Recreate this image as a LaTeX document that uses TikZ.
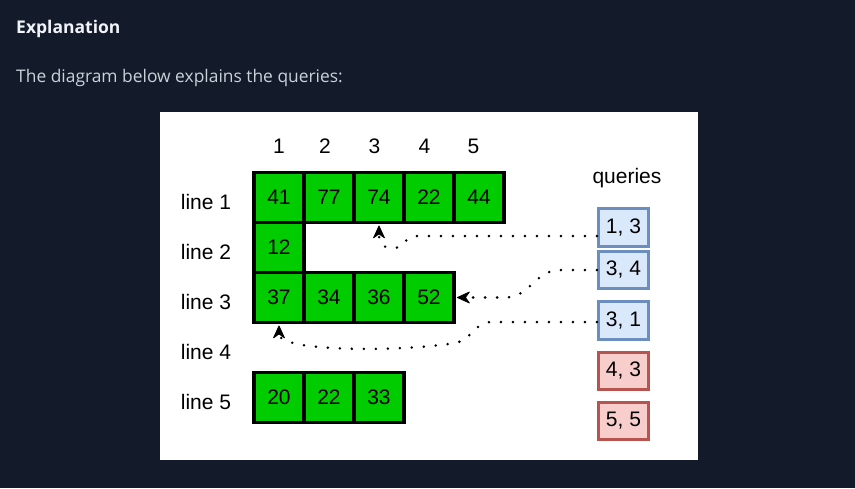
\documentclass[tikz,border=0pt]{standalone}
\usepackage{fontspec}
\setmainfont{Liberation Sans}
\newfontfamily\opensans{Open Sans}
\usetikzlibrary{arrows.meta}
\definecolor{pagebg}{HTML}{131A2A}
\definecolor{titlecol}{HTML}{F0F3F8}
\definecolor{bodycol}{HTML}{C9D1D9}
\definecolor{cellgreen}{HTML}{00CC00}
\definecolor{qbluefill}{HTML}{DAE8FC}
\definecolor{qbluedraw}{HTML}{6C8EBF}
\definecolor{qredfill}{HTML}{F8CECC}
\definecolor{qreddraw}{HTML}{B85450}
\begin{document}
\begin{tikzpicture}[x=1pt,y=-1pt,
  figfont/.style={font=\fontsize{21}{24}\selectfont},
  cell/.style={draw=black, line width=3.2pt, fill=cellgreen, minimum width=50pt, minimum height=50pt, inner sep=0pt, figfont},
  qblue/.style={draw=qbluedraw, fill=qbluefill, line width=3.2pt, minimum width=50pt, minimum height=37.5pt, inner sep=0pt, figfont},
  qred/.style={draw=qreddraw, fill=qredfill, line width=3.2pt, minimum width=50pt, minimum height=37.5pt, inner sep=0pt, figfont},
  lbl/.style={inner sep=0pt, figfont},
  dotline/.style={line width=2.8pt, line cap=round, dash pattern=on 0pt off 12pt},
  headfill/.style={fill=black, draw=black, line width=0.8pt, line join=round}
]
\useasboundingbox (0,0) rectangle (855,488);
\fill[pagebg] (0,0) rectangle (855,488);
\node[anchor=base west, inner sep=0pt, text=titlecol, font=\opensans\bfseries\fontsize{17.5}{20}\selectfont] (title) at (16,33) {Explanation};
\node[anchor=base west, inner sep=0pt, text=bodycol, font=\opensans\fontsize{17.4}{20}\selectfont] (intro) at (16,82) {The diagram below explains the queries:};
\fill[white] (160,112) rectangle (698,460);

% column headers
\node[lbl] (h1) at (279,146.5) {1};
\node[lbl] (h2) at (325,146.5) {2};
\node[lbl] (h3) at (374.5,146.5) {3};
\node[lbl] (h4) at (424.5,146.5) {4};
\node[lbl] (h5) at (473.5,146.5) {5};

% line labels
\node[lbl] (l1) at (206,202) {line 1};
\node[lbl] (l2) at (206,252) {line 2};
\node[lbl] (l3) at (206,302) {line 3};
\node[lbl] (l4) at (206,352) {line 4};
\node[lbl] (l5) at (206,402) {line 5};

% cells
\node[cell] (c11) at (279,197.5) {41};
\node[cell] (c12) at (329,197.5) {77};
\node[cell] (c13) at (379,197.5) {74};
\node[cell] (c14) at (429,197.5) {22};
\node[cell] (c15) at (479,197.5) {44};
\node[cell] (c21) at (279,247.5) {12};
\node[cell] (c31) at (279,297.5) {37};
\node[cell] (c32) at (329,297.5) {34};
\node[cell] (c33) at (379,297.5) {36};
\node[cell] (c34) at (429,297.5) {52};
\node[cell] (c51) at (279,397.5) {20};
\node[cell] (c52) at (329,397.5) {22};
\node[cell] (c53) at (379,397.5) {33};

% queries
\node[lbl] (qlabel) at (627,178) {queries};
\node[qblue] (q13) at (623.5,227.5) {1, 3};
\node[qblue] (q34) at (623.5,270) {3, 4};
\node[qblue] (q31) at (623.5,320.5) {3, 1};
\node[qred] (q43) at (623.5,371) {4, 3};
\node[qred] (q55) at (623.5,421) {5, 5};

% arrow tips and bases
\coordinate (t1) at ([yshift=-1.8pt]c13.south);
\coordinate (t2) at ([xshift=1.8pt]c34.east);
\coordinate (t3) at ([yshift=-1.8pt]c31.south);
\coordinate (a1) at (379,234);
\coordinate (a2) at (464,297.5);
\coordinate (a3) at (279,334);

% connectors
\draw[dotline] ([yshift=-8.5pt]q13.west) -- (415,236) .. controls (405,236) and (405,248) .. (394,248) .. controls (382,248) and (379,244) .. (a1);
\draw[dotline] (q34.west) -- (560,270) .. controls (535,270) and (530,297.5) .. (505,297.5) -- (a2);
\draw[dotline] ([yshift=-1.5pt]q31.west) -- (492,322) .. controls (474,322) and (472,340) .. (455,343) .. controls (400,352) and (279,352) .. (a3);

% arrowheads
\filldraw[headfill] (t1) -- ++(5.5,12) -- ++(-5.5,-4) -- ++(-5.5,4) -- cycle;
\filldraw[headfill] (t2) -- ++(12,-5.5) -- ++(-4,5.5) -- ++(4,5.5) -- cycle;
\filldraw[headfill] (t3) -- ++(5.5,12) -- ++(-5.5,-4) -- ++(-5.5,4) -- cycle;
\end{tikzpicture}
\end{document}
